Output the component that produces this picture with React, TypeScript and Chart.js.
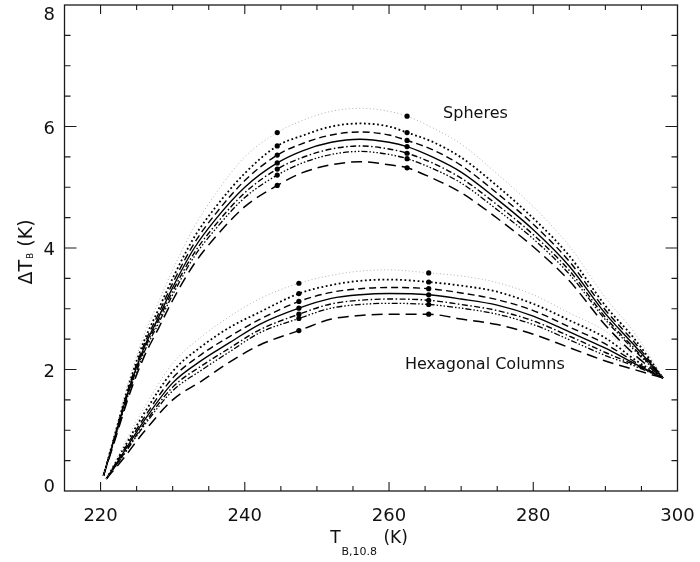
import { useEffect, useRef } from "react";
import { Chart, registerables } from "chart.js";

Chart.register(...registerables);

const FONT = '"DejaVu Sans", "Liberation Sans", sans-serif';
const INK = "#111";

// Axis ranges and tick labels
const X_MIN = 215;
const X_MAX = 300;
const Y_MIN = 0;
const Y_MAX = 8;
const X_TICKS = [220, 240, 260, 280, 300];
const Y_TICKS = [0, 2, 4, 6, 8];
const X_MINOR_STEP = 5;
const Y_MINOR_STEP = 0.5;

// Spheres: brightness temperature (K) and split-window difference (K)
const SPH_X = [220.4, 222, 224, 226, 228, 230, 233, 236, 240, 244.5, 248, 252, 256, 260, 262.5, 266, 270, 275, 280, 285, 290, 294, 298];
const SPH_FAINT = [0.25, 0.98, 1.85, 2.56, 3.10, 3.64, 4.35, 4.90, 5.50, 5.90, 6.10, 6.25, 6.30, 6.25, 6.17, 5.98, 5.71, 5.22, 4.68, 4.03, 3.18, 2.61, 1.86];
const SPH_DOT = [0.25, 0.94, 1.78, 2.46, 2.98, 3.50, 4.18, 4.68, 5.23, 5.68, 5.85, 6.00, 6.05, 6.00, 5.90, 5.75, 5.49, 5.02, 4.49, 3.87, 3.05, 2.51, 1.86];
const SPH_DASH = [0.25, 0.92, 1.74, 2.40, 2.91, 3.42, 4.08, 4.57, 5.11, 5.53, 5.72, 5.86, 5.91, 5.86, 5.77, 5.62, 5.36, 4.90, 4.39, 3.78, 2.98, 2.45, 1.86];
const SPH_SOLID = [0.25, 0.90, 1.70, 2.35, 2.85, 3.35, 4.00, 4.48, 5.00, 5.40, 5.60, 5.74, 5.79, 5.74, 5.67, 5.50, 5.25, 4.80, 4.30, 3.70, 2.92, 2.40, 1.86];
const SPH_DASHDOT = [0.25, 0.88, 1.67, 2.31, 2.80, 3.29, 3.92, 4.39, 4.91, 5.30, 5.49, 5.63, 5.68, 5.63, 5.56, 5.40, 5.15, 4.71, 4.22, 3.63, 2.86, 2.35, 1.86];
const SPH_DASH3DOT = [0.25, 0.87, 1.64, 2.27, 2.75, 3.23, 3.86, 4.32, 4.83, 5.20, 5.40, 5.54, 5.59, 5.54, 5.47, 5.31, 5.07, 4.63, 4.15, 3.57, 2.82, 2.32, 1.86];
const SPH_LONGDASH = [0.25, 0.84, 1.59, 2.20, 2.67, 3.14, 3.74, 4.19, 4.68, 5.03, 5.24, 5.37, 5.42, 5.37, 5.32, 5.15, 4.91, 4.49, 4.02, 3.46, 2.73, 2.25, 1.86];
const SPH_MARKERS = [9, 14];

// Hexagonal columns
const HEX_X = [220.8, 223, 226, 230, 234, 238, 242, 247.5, 252, 256, 260, 265.5, 270, 275, 280, 285, 290, 294, 298];
const HEX_FAINT = [0.2, 0.71, 1.36, 2.10, 2.54, 2.88, 3.16, 3.42, 3.55, 3.62, 3.64, 3.59, 3.54, 3.43, 3.23, 2.93, 2.63, 2.22, 1.86];
const HEX_DOT = [0.2, 0.66, 1.27, 1.97, 2.38, 2.70, 2.94, 3.25, 3.39, 3.46, 3.48, 3.44, 3.38, 3.28, 3.08, 2.81, 2.52, 2.17, 1.86];
const HEX_DASH = [0.2, 0.63, 1.20, 1.86, 2.25, 2.55, 2.82, 3.12, 3.27, 3.33, 3.35, 3.33, 3.26, 3.15, 2.97, 2.70, 2.42, 2.13, 1.86];
const HEX_SOLID = [0.2, 0.60, 1.15, 1.78, 2.15, 2.45, 2.74, 3.01, 3.17, 3.23, 3.25, 3.23, 3.16, 3.06, 2.88, 2.62, 2.35, 2.10, 1.86];
const HEX_DASHDOT = [0.2, 0.57, 1.10, 1.71, 2.06, 2.36, 2.65, 2.91, 3.08, 3.14, 3.16, 3.14, 3.07, 2.97, 2.80, 2.55, 2.28, 2.08, 1.86];
const HEX_DASH3DOT = [0.2, 0.56, 1.07, 1.65, 1.99, 2.30, 2.60, 2.84, 3.01, 3.07, 3.09, 3.07, 3.01, 2.91, 2.74, 2.49, 2.23, 2.06, 1.86];
const HEX_LONGDASH = [0.2, 0.51, 0.97, 1.50, 1.81, 2.13, 2.40, 2.64, 2.83, 2.89, 2.91, 2.91, 2.83, 2.74, 2.58, 2.36, 2.14, 2.00, 1.86];
const HEX_MARKERS = [7, 11];

// Curve annotations (anchor is the text's left end on its baseline)
const LABELS = [
  { text: "Spheres", x: 267.5, y: 6.14 },
  { text: "Hexagonal Columns", x: 262.2, y: 2.01 },
];

type LineStyle = { color: string; width: number; dash: number[] };

const STYLE_FAINT: LineStyle = { color: "#a8a8a8", width: 0.9, dash: [1, 2.5] };
const STYLE_DOT: LineStyle = { color: "#000", width: 1.8, dash: [1.8, 2.6] };
const STYLE_DASH: LineStyle = { color: "#000", width: 1.4, dash: [7, 4] };
const STYLE_SOLID: LineStyle = { color: "#000", width: 1.4, dash: [] };
const STYLE_DASHDOT: LineStyle = { color: "#000", width: 1.4, dash: [6, 2.5, 1.5, 2.5] };
const STYLE_DASH3DOT: LineStyle = { color: "#000", width: 1.3, dash: [6, 2, 1.5, 2, 1.5, 2, 1.5, 2] };
const STYLE_LONGDASH: LineStyle = { color: "#000", width: 1.5, dash: [11, 6] };

function series(label: string, xs: number[], ys: number[], style: LineStyle, markers: number[]) {
  return {
    label,
    data: xs.map((x, i) => ({ x, y: ys[i] })),
    showLine: true,
    fill: false,
    borderColor: style.color,
    borderWidth: style.width,
    borderDash: style.dash,
    borderCapStyle: "butt" as const,
    cubicInterpolationMode: "monotone" as const,
    pointRadius: xs.map((_, i) => (markers.includes(i) ? 2.6 : 0)),
    pointHoverRadius: 0,
    pointBackgroundColor: "#000",
    pointBorderColor: "#000",
    pointBorderWidth: 0,
  };
}

const framePlugin = {
  id: "frameAndText",
  beforeDraw(chart: any) {
    const { ctx, width, height } = chart;
    ctx.save();
    ctx.fillStyle = "#fff";
    ctx.fillRect(0, 0, width, height);
    ctx.restore();
  },
  afterDraw(chart: any) {
    const { ctx, chartArea: a } = chart;
    const xs = chart.scales.x;
    const ys = chart.scales.y;
    ctx.save();

    // box
    ctx.strokeStyle = "#1a1a1a";
    ctx.lineWidth = 1.3;
    ctx.setLineDash([]);
    ctx.strokeRect(a.left, a.top, a.right - a.left, a.bottom - a.top);

    // inward tick marks on all four sides
    ctx.lineWidth = 1.1;
    ctx.beginPath();
    for (let v = X_TICKS[0]; v < X_MAX; v += X_MINOR_STEP) {
      const px = xs.getPixelForValue(v);
      const len = X_TICKS.includes(v) ? 9 : 5;
      ctx.moveTo(px, a.bottom);
      ctx.lineTo(px, a.bottom - len);
      ctx.moveTo(px, a.top);
      ctx.lineTo(px, a.top + len);
    }
    for (let v = Y_MIN + Y_MINOR_STEP; v < Y_MAX; v += Y_MINOR_STEP) {
      const py = ys.getPixelForValue(v);
      const len = Y_TICKS.includes(v) ? 12 : 6;
      ctx.moveTo(a.left, py);
      ctx.lineTo(a.left + len, py);
      ctx.moveTo(a.right, py);
      ctx.lineTo(a.right - len, py);
    }
    ctx.stroke();

    // tick labels
    ctx.fillStyle = INK;
    ctx.font = `18px ${FONT}`;
    ctx.textAlign = "center";
    ctx.textBaseline = "alphabetic";
    for (const v of X_TICKS) {
      ctx.fillText(String(v), xs.getPixelForValue(v), a.bottom + 30);
    }
    ctx.textAlign = "right";
    for (const v of Y_TICKS) {
      const py = ys.getPixelForValue(v);
      const base = Math.min(Math.max(py + 7, a.top + 15), a.bottom + 0.5);
      ctx.fillText(String(v), a.left - 9.5, base);
    }

    // curve annotations
    ctx.textAlign = "left";
    ctx.font = `16px ${FONT}`;
    for (const l of LABELS) {
      ctx.fillText(l.text, xs.getPixelForValue(l.x), ys.getPixelForValue(l.y));
    }

    // x-axis title: T_{B,10.8} (K)
    const mainX = `17px ${FONT}`;
    const subX = `11px ${FONT}`;
    ctx.font = mainX;
    const wT = ctx.measureText("T").width;
    const wK = ctx.measureText(" (K)").width;
    ctx.font = subX;
    const wSub = ctx.measureText("B,10.8").width;
    const totalX = wT + wSub + 2 + wK;
    let cx = (a.left + a.right) / 2 - 2 - totalX / 2;
    const baseX = a.bottom + 52;
    ctx.font = mainX;
    ctx.fillText("T", cx, baseX);
    cx += wT + 1;
    ctx.font = subX;
    ctx.fillText("B,10.8", cx, baseX + 12);
    cx += wSub + 1;
    ctx.font = mainX;
    ctx.fillText(" (K)", cx, baseX);

    // y-axis title: ΔT_B (K), rotated
    const mainY = `19px ${FONT}`;
    const subY = `9px ${FONT}`;
    ctx.font = mainY;
    const wD = ctx.measureText("ΔT").width;
    const wKy = ctx.measureText(" (K)").width;
    ctx.font = subY;
    const wB = ctx.measureText("B").width;
    const totalY = wD + 1 + wB + wKy;
    ctx.translate(32, (a.top + a.bottom) / 2 + 4);
    ctx.rotate(-Math.PI / 2);
    let ry = -totalY / 2;
    ctx.font = mainY;
    ctx.fillText("ΔT", ry, 0);
    ry += wD + 1;
    ctx.font = subY;
    ctx.fillText("B", ry, 1);
    ry += wB;
    ctx.font = mainY;
    ctx.fillText(" (K)", ry, 0);

    ctx.restore();
  },
};

export default function App() {
  const canvasRef = useRef<HTMLCanvasElement | null>(null);

  useEffect(() => {
    document.body.style.margin = "0";
    const canvas = canvasRef.current;
    if (!canvas) return;

    const datasets = [
      series("Spheres faint", SPH_X, SPH_FAINT, STYLE_FAINT, SPH_MARKERS),
      series("Spheres dotted", SPH_X, SPH_DOT, STYLE_DOT, SPH_MARKERS),
      series("Spheres dashed", SPH_X, SPH_DASH, STYLE_DASH, SPH_MARKERS),
      series("Spheres solid", SPH_X, SPH_SOLID, STYLE_SOLID, SPH_MARKERS),
      series("Spheres dash-dot", SPH_X, SPH_DASHDOT, STYLE_DASHDOT, SPH_MARKERS),
      series("Spheres dash-dot-dot-dot", SPH_X, SPH_DASH3DOT, STYLE_DASH3DOT, SPH_MARKERS),
      series("Spheres long dash", SPH_X, SPH_LONGDASH, STYLE_LONGDASH, SPH_MARKERS),
      series("Columns faint", HEX_X, HEX_FAINT, STYLE_FAINT, HEX_MARKERS),
      series("Columns dotted", HEX_X, HEX_DOT, STYLE_DOT, HEX_MARKERS),
      series("Columns dashed", HEX_X, HEX_DASH, STYLE_DASH, HEX_MARKERS),
      series("Columns solid", HEX_X, HEX_SOLID, STYLE_SOLID, HEX_MARKERS),
      series("Columns dash-dot", HEX_X, HEX_DASHDOT, STYLE_DASHDOT, HEX_MARKERS),
      series("Columns dash-dot-dot-dot", HEX_X, HEX_DASH3DOT, STYLE_DASH3DOT, HEX_MARKERS),
      series("Columns long dash", HEX_X, HEX_LONGDASH, STYLE_LONGDASH, HEX_MARKERS),
    ];

    const chart = new Chart(canvas, {
      type: "scatter",
      data: { datasets },
      options: {
        animation: false,
        responsive: false,
        devicePixelRatio: 1,
        events: [],
        layout: { padding: { left: 0, right: 22.5, top: 5, bottom: 0 } },
        plugins: { legend: { display: false }, tooltip: { enabled: false } },
        scales: {
          x: {
            type: "linear",
            min: X_MIN,
            max: X_MAX,
            ticks: { display: false },
            grid: { display: false, drawTicks: false },
            border: { display: false },
            afterFit: (s: any) => {
              s.height = 71;
              s.paddingLeft = 0;
              s.paddingRight = 0;
            },
          },
          y: {
            type: "linear",
            min: Y_MIN,
            max: Y_MAX,
            ticks: { display: false },
            grid: { display: false, drawTicks: false },
            border: { display: false },
            afterFit: (s: any) => {
              s.width = 64.5;
              s.paddingTop = 0;
              s.paddingBottom = 0;
            },
          },
        },
      },
      plugins: [framePlugin],
    });

    return () => chart.destroy();
  }, []);

  return (
    <div style={{ position: "absolute", left: 0, top: 0, width: 700, height: 562, background: "#fff" }}>
      <canvas ref={canvasRef} width={700} height={562} />
    </div>
  );
}
